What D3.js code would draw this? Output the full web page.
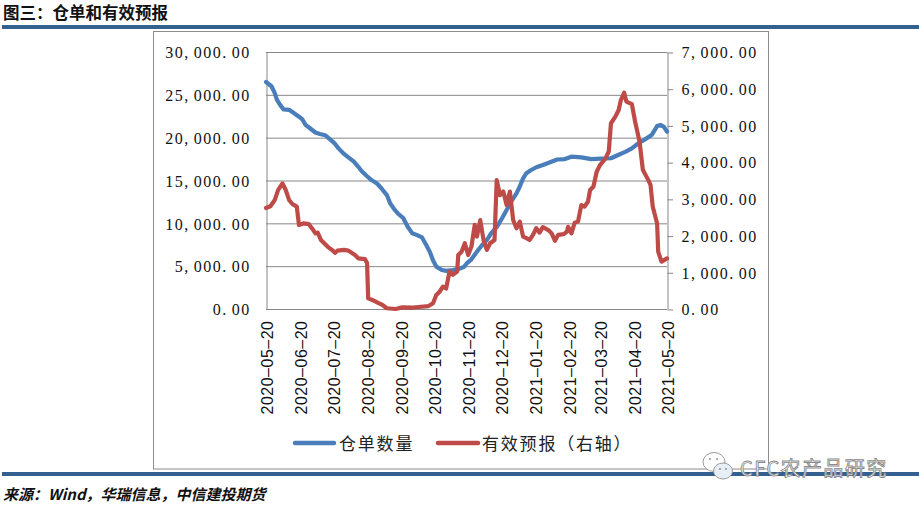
<!DOCTYPE html>
<html><head><meta charset="utf-8">
<script src="https://cdn.jsdelivr.net/npm/d3@7"></script>
<style>body{margin:0;background:#fff}svg{display:block}</style>
</head><body><svg id="c" width="919" height="508"></svg>
<script>
const titleText = "图三：仓单和有效预报";
const sourceText = "来源：Wind，华瑞信息，中信建投期货";
const watermarkText = "CFC农产品研究";
const seriesNames = ["仓单数量", "有效预报（右轴）"];
const xTickLabels = ["2020-05-20","2020-06-20","2020-07-20","2020-08-20","2020-09-20","2020-10-20","2020-11-20","2020-12-20","2021-01-20","2021-02-20","2021-03-20","2021-04-20","2021-05-20"];
const leftTicks = [0,5000,10000,15000,20000,25000,30000];
const rightTicks = [0,1000,2000,3000,4000,5000,6000,7000];

// 仓单数量 (left axis)
const warehouseSeries = [
["2020-05-20",26500],["2020-05-25",26000],["2020-05-28",25200],["2020-05-30",24400],
["2020-06-02",23800],["2020-06-05",23300],["2020-06-10",23250],["2020-06-14",22900],["2020-06-19",22450],["2020-06-22",22150],["2020-06-25",21500],["2020-06-29",21100],
["2020-07-04",20600],["2020-07-08",20430],["2020-07-13",20280],["2020-07-16",19950],["2020-07-21",19400],["2020-07-25",18750],["2020-07-30",18100],
["2020-08-03",17700],["2020-08-08",17200],["2020-08-12",16600],["2020-08-15",16100],["2020-08-20",15500],["2020-08-24",15050],["2020-08-29",14650],
["2020-09-02",14100],["2020-09-07",13300],["2020-09-10",12350],["2020-09-14",11600],["2020-09-17",11150],["2020-09-22",10600],["2020-09-26",9600],["2020-09-30",8850],
["2020-10-04",8650],["2020-10-09",8350],["2020-10-13",7450],["2020-10-16",6700],["2020-10-19",5700],["2020-10-22",4950],["2020-10-27",4550],["2020-10-31",4450],
["2020-11-06",4550],["2020-11-11",4650],["2020-11-16",4900],["2020-11-19",5350],["2020-11-23",5800],["2020-11-28",6700],
["2020-12-02",7350],["2020-12-07",8050],["2020-12-11",8850],["2020-12-16",9550],["2020-12-20",10400],["2020-12-25",11550],["2020-12-29",12500],
["2021-01-03",13500],["2021-01-06",14300],["2021-01-09",15250],["2021-01-12",15850],["2021-01-16",16200],["2021-01-21",16550],["2021-01-27",16800],
["2021-02-02",17100],["2021-02-09",17450],["2021-02-16",17500],["2021-02-22",17780],
["2021-03-03",17700],["2021-03-12",17500],["2021-03-21",17550],["2021-03-30",17600],
["2021-04-05",17950],["2021-04-12",18350],["2021-04-18",18750],["2021-04-24",19350],["2021-04-30",19800],
["2021-05-06",20300],["2021-05-11",21350],["2021-05-14",21480],["2021-05-17",21300],["2021-05-20",20700]
];

// 有效预报 (right axis)
const forecastSeries = [
["2020-05-20",2750],["2020-05-24",2800],["2020-05-28",2970],["2020-05-31",3240],
["2020-06-04",3420],["2020-06-07",3240],["2020-06-10",2970],["2020-06-13",2860],["2020-06-17",2790],["2020-06-19",2290],["2020-06-23",2330],["2020-06-28",2310],
["2020-07-02",2150],["2020-07-04",2060],["2020-07-06",2080],["2020-07-09",1880],["2020-07-15",1700],["2020-07-19",1610],["2020-07-22",1530],["2020-07-24",1590],["2020-07-30",1610],
["2020-08-03",1590],["2020-08-09",1470],["2020-08-12",1380],["2020-08-18",1360],["2020-08-20",1250],["2020-08-21",290],["2020-08-26",230],["2020-08-31",155],
["2020-09-03",110],["2020-09-07",20],["2020-09-15",0],["2020-09-21",45],
["2020-10-01",40],["2020-10-15",80],["2020-10-19",155],["2020-10-22",380],["2020-10-25",470],["2020-10-28",610],["2020-10-31",560],
["2020-11-03",1020],["2020-11-06",930],["2020-11-10",1020],["2020-11-11",1470],["2020-11-14",1560],["2020-11-17",1790],["2020-11-20",1470],["2020-11-23",1700],["2020-11-26",2290],["2020-11-28",1970],
["2020-12-01",2420],["2020-12-04",1880],["2020-12-07",1610],["2020-12-10",1790],["2020-12-14",1880],["2020-12-16",3510],["2020-12-19",3100],["2020-12-22",3200],["2020-12-25",2830],["2020-12-28",3200],["2020-12-31",2420],
["2021-01-03",2200],["2021-01-06",2380],["2021-01-09",1970],["2021-01-12",1930],["2021-01-15",1880],["2021-01-18",2020],["2021-01-21",2200],["2021-01-24",2080],["2021-01-27",2230],
["2021-02-01",2150],["2021-02-04",2060],["2021-02-07",1860],["2021-02-10",2020],["2021-02-15",2040],["2021-02-18",2110],["2021-02-19",2240],["2021-02-22",2060],["2021-02-25",2350],["2021-02-28",2380],
["2021-03-03",2830],["2021-03-06",2790],["2021-03-09",2920],["2021-03-11",3240],["2021-03-14",3330],["2021-03-17",3740],["2021-03-20",3920],["2021-03-25",4100],["2021-03-28",4290],["2021-03-30",5060],
["2021-04-03",5240],["2021-04-06",5420],["2021-04-08",5690],["2021-04-11",5890],["2021-04-13",5650],["2021-04-18",5580],["2021-04-21",5100],["2021-04-25",4560],["2021-04-28",3790],
["2021-05-03",3510],["2021-05-05",3380],["2021-05-07",2790],["2021-05-11",2330],["2021-05-12",1560],["2021-05-15",1290],["2021-05-20",1380]
];

const parse = d3.timeParse("%Y-%m-%d");
const svg = d3.select("#c");
svg.append("rect").attr("width",919).attr("height",508).attr("fill","#fff");

const BAR = "#33608F", GRID = "#878787", BLUE = "#4A7EBB", RED = "#BE4B48";
const CJK = "'Noto Sans CJK SC', sans-serif";

// title & bars
svg.append("text").attr("x",3).attr("y",18.5).attr("font-family",CJK).attr("font-weight","bold")
  .attr("font-size",16.5).attr("fill","#111").text(titleText);
svg.append("rect").attr("x",2).attr("y",25).attr("width",917).attr("height",4).attr("fill",BAR);
svg.append("rect").attr("x",153.5).attr("y",31.5).attr("width",615).attr("height",437.5)
  .attr("fill","none").attr("stroke","#8c8c8c").attr("stroke-width",1);
svg.append("rect").attr("x",2).attr("y",472).attr("width",917).attr("height",4).attr("fill",BAR);
svg.append("text").attr("x",3).attr("y",500).attr("font-family",CJK).attr("font-weight","bold")
  .attr("font-style","italic").attr("font-size",15).attr("fill","#111").text(sourceText);

// scales
const L = 266, R = 667, T = 52, B = 309;
const x = d3.scaleTime().domain([parse("2020-05-20"), parse("2021-05-20")]).range([L, R]);
const yL = d3.scaleLinear().domain([0,30000]).range([B, T]);
const yR = d3.scaleLinear().domain([0,7000]).range([B, T]);
const fmt = d3.format(",.2f");

function mono(sel, str, startX, cell) {
  sel.text(str).attr("x", d3.range(str.length).map(i => (startX + i*cell).toFixed(2)).join(" "));
}

// gridlines
svg.append("g").selectAll("line").data(leftTicks).join("line")
  .attr("x1",L).attr("x2",R).attr("y1",d=>yL(d)+0.5).attr("y2",d=>yL(d)+0.5)
  .attr("stroke",GRID).attr("stroke-width",1);

// left axis
const gL = svg.append("g").attr("transform",`translate(${L+0.5},0)`)
  .call(d3.axisLeft(yL).tickValues(leftTicks).tickSize(0).tickFormat(fmt));
gL.select(".domain").attr("stroke",GRID);
gL.selectAll("text").each(function(d){
  const s = fmt(d), cell = 9.5;
  const sel = d3.select(this).attr("text-anchor","start").attr("dy","0.36em")
    .attr("font-family","'Liberation Serif', serif").attr("font-size",16).attr("fill","#111");
  mono(sel, s, -(L+0.5) + 249.5 - 8.2 - (s.length-1)*cell, cell);
});

// right axis
const gR = svg.append("g").attr("transform",`translate(${R+0.5},0)`)
  .call(d3.axisRight(yR).tickValues(rightTicks).tickSize(5.5).tickSizeOuter(0).tickFormat(fmt));
gR.select(".domain").attr("stroke",GRID);
gR.selectAll(".tick line").attr("stroke",GRID).attr("transform","translate(0,0.5)");
gR.selectAll("text").each(function(d){
  const s = fmt(d), cell = 9.55;
  const sel = d3.select(this).attr("text-anchor","start").attr("dy","0.36em")
    .attr("font-family","'Liberation Serif', serif").attr("font-size",16).attr("fill","#111");
  mono(sel, s, 681.5 - (R+0.5), cell);
});

// x labels (rotated)
const gX = svg.append("g");
xTickLabels.forEach(lbl => {
  const s = lbl.replace(/-/g, "–"), cell = 9.4;
  const t = gX.append("text").attr("transform",`translate(${x(parse(lbl))},321) rotate(-90)`)
    .attr("text-anchor","start").attr("y",7)
    .attr("font-family","'Liberation Sans', Arial, sans-serif").attr("font-size",16).attr("fill","#111");
  mono(t, s, -(9*cell + 8.9), cell);
});

// lines
const lineL = d3.line().x(d=>x(parse(d[0]))).y(d=>yL(d[1]));
const lineR = d3.line().x(d=>x(parse(d[0]))).y(d=>yR(d[1]));
svg.append("path").attr("d",lineL(warehouseSeries)).attr("fill","none").attr("stroke",BLUE)
  .attr("stroke-width",4.2).attr("stroke-linejoin","round").attr("stroke-linecap","round");
svg.append("path").attr("d",lineR(forecastSeries)).attr("fill","none").attr("stroke",RED)
  .attr("stroke-width",4.2).attr("stroke-linejoin","round").attr("stroke-linecap","round");

// legend
const leg = svg.append("g");
[[295,334,339,BLUE,seriesNames[0]],[438,478,482,RED,seriesNames[1]]].forEach(([x1,x2,tx,c,name]) => {
  leg.append("line").attr("x1",x1).attr("x2",x2).attr("y1",443).attr("y2",443)
    .attr("stroke",c).attr("stroke-width",4.5).attr("stroke-linecap","round");
  leg.append("text").attr("x",tx).attr("y",449.5).attr("font-family",CJK).attr("font-size",17)
    .attr("letter-spacing",1.8).attr("fill","#222").text(name);
});

// watermark
const wm = svg.append("g");
wm.append("ellipse").attr("cx",714).attr("cy",462).attr("rx",11).attr("ry",9.5)
  .attr("fill","#fff").attr("stroke","#9a9a9a").attr("stroke-width",1);
wm.append("ellipse").attr("cx",723).attr("cy",471).attr("rx",9.5).attr("ry",8)
  .attr("fill","#e8eef5").attr("stroke","#9a9a9a").attr("stroke-width",1);
[[710,459],[717,459],[720,469],[726,469]].forEach(([cx,cy]) =>
  wm.append("circle").attr("cx",cx).attr("cy",cy).attr("r",1.1).attr("fill","#999"));
wm.append("text").attr("x",740).attr("y",476).attr("font-family",CJK).attr("font-size",20)
  .attr("letter-spacing",1.4).attr("fill","#fff").attr("stroke","#8a8a8a").attr("stroke-width",0.9)
  .text(watermarkText);
</script></body></html>
